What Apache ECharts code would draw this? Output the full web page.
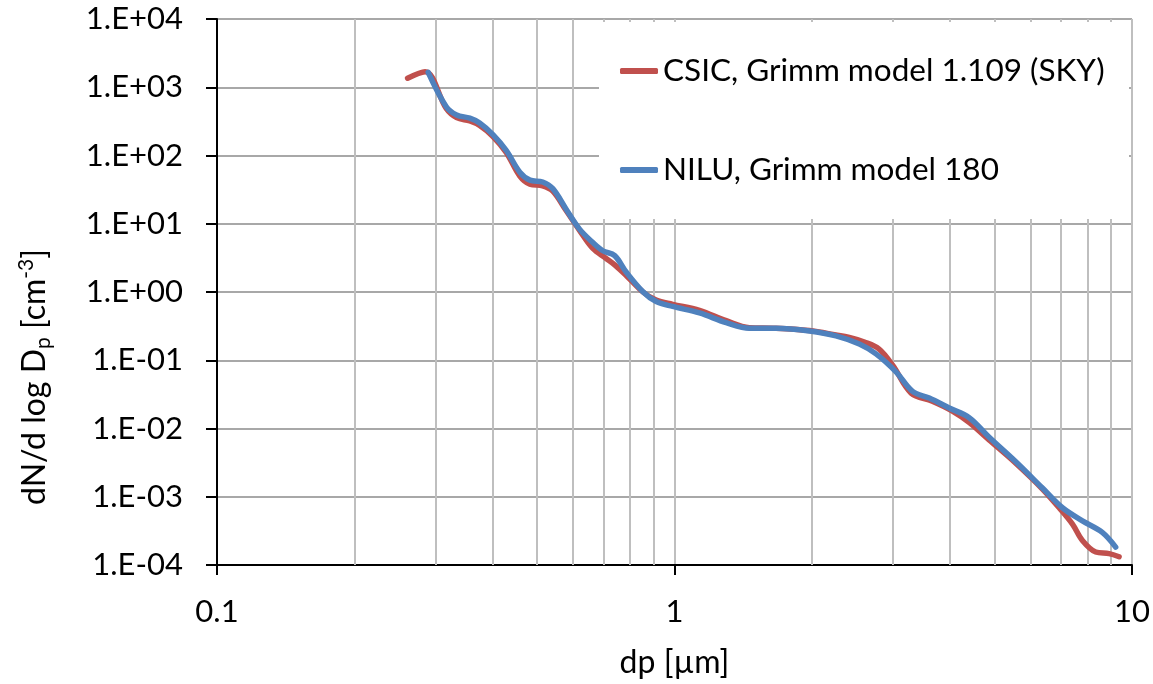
<!DOCTYPE html>
<html><head><meta charset="utf-8">
<script src="https://cdn.jsdelivr.net/npm/echarts@6/dist/echarts.min.js"></script>
<style>html,body{margin:0;padding:0;background:#fff}#c{width:1153px;height:684px}</style>
</head><body><div id="c"></div>
<script>
const redName = 'CSIC, Grimm model 1.109 (SKY)';
const blueName = 'NILU, Grimm model 180';
const redDp = [0.261,0.285,0.317,0.334,0.357,0.375,0.401,0.429,0.459,0.483,0.515,0.542,0.580,0.620,0.662,0.709,0.740,0.784,0.853,0.912,0.991,1.134,1.297,1.458,1.667,1.972,2.254,2.41,2.60,2.80,3.00,3.29,3.66,4.05,4.41,4.87,5.57,6.37,6.93,7.41,7.79,8.33,8.91,9.37];
const redN = [1355,1690,490,360,320,275,190,110,50,38,36,30,15.5,8.0,4.4,3.1,2.5,1.75,1.0,0.76,0.66,0.54,0.38,0.30,0.295,0.272,0.235,0.216,0.185,0.146,0.084,0.033,0.0251,0.018,0.0122,0.0068,0.0031,0.0013,0.00069,0.000398,0.000229,0.000155,0.000147,0.000132];
const blueDp = [0.2895,0.317,0.334,0.357,0.375,0.401,0.429,0.459,0.483,0.515,0.542,0.580,0.620,0.663,0.697,0.740,0.784,0.853,0.912,0.991,1.134,1.297,1.458,1.667,1.972,2.254,2.535,2.757,3.049,3.314,3.605,3.985,4.407,4.873,5.572,6.371,7.045,7.79,8.61,9.21];
const blueN = [1655,519,393,352,299,202,118,57,43.6,40.9,32.7,16.2,8.34,5.30,4.02,3.41,1.96,1.01,0.724,0.614,0.493,0.355,0.294,0.294,0.269,0.228,0.173,0.124,0.0676,0.0349,0.0279,0.0200,0.0144,0.00743,0.00325,0.00134,0.00069,0.000444,0.000301,0.000183];
const xTickLabels = ['0.1','1','10'];
const yTickLabels = ['1.E-04','1.E-03','1.E-02','1.E-01','1.E+00','1.E+01','1.E+02','1.E+03','1.E+04'];
const minorX = [0.2,0.3,0.4,0.5,0.6,0.7,0.8,0.9,2,3,4,5,6,7,8,9];

const FONT = 'Lato';
const zip = (a, b) => a.map((v, i) => [v, b[i]]);
const chart = echarts.init(document.getElementById('c'), null, {renderer: 'canvas'});
chart.setOption({
  animation: false,
  backgroundColor: '#fff',
  grid: {left: 217, right: 20, top: 19, bottom: 111},
  legend: {
    data: [redName, blueName],
    orient: 'vertical', left: 599, top: 22,
    padding: [33, 4, 33, 21],
    itemGap: 67, itemWidth: 38, itemHeight: 6, icon: 'roundRect',
    backgroundColor: '#fff', selectedMode: false,
    textStyle: {fontSize: 31.5, fontFamily: FONT, color: '#000', lineHeight: 32, width: 462, overflow: 'none'}
  },
  xAxis: {
    type: 'log', logBase: 10, min: 0.1, max: 10,
    axisLine: {show: true, onZero: false, lineStyle: {color: '#000', width: 2}},
    axisTick: {show: true, length: 10, lineStyle: {color: '#000', width: 2}},
    axisLabel: {margin: 31, fontSize: 31, fontFamily: FONT, color: '#000',
      formatter: v => xTickLabels[Math.round(Math.log10(v)) + 1]},
    splitLine: {show: true, lineStyle: {color: '#bfbfbf', width: 2}},
    name: 'dp [µm]', nameLocation: 'middle', nameGap: 82,
    nameTextStyle: {fontSize: 32, fontFamily: FONT, color: '#000'}
  },
  yAxis: {
    type: 'log', logBase: 10, min: 1e-4, max: 1e4, splitNumber: 8,
    axisLine: {show: true, onZero: false, lineStyle: {color: '#000', width: 2}},
    axisTick: {show: true, length: 11, lineStyle: {color: '#000', width: 2}},
    axisLabel: {margin: 34, fontSize: 31, fontFamily: FONT, color: '#000',
      formatter: v => yTickLabels[Math.round(Math.log10(v)) + 4]},
    splitLine: {show: true, lineStyle: {color: '#a8a8a8', width: 2}},
    name: '{a|dN/d log D}{s|p}{a| [cm}{u|-3}{a|]}', nameLocation: 'middle', nameGap: 163,
    nameTextStyle: {fontSize: 32, fontFamily: FONT, color: '#000', padding: [0, 170, 0, 0],
      rich: {
        a: {fontSize: 32, fontFamily: FONT, color: '#000', lineHeight: 38},
        s: {fontSize: 21, fontFamily: FONT, color: '#000', lineHeight: 18, verticalAlign: 'bottom'},
        u: {fontSize: 21, fontFamily: FONT, color: '#000', lineHeight: 15, verticalAlign: 'top'}
      }}
  },
  series: [
    {
      name: redName, type: 'line', data: zip(redDp, redN), smooth: 0.35,
      showSymbol: false, symbol: 'none', color: '#C0504D',
      lineStyle: {width: 5.5, color: '#C0504D', cap: 'round', join: 'round'},
      markLine: {
        silent: true, symbol: 'none', z: 1, animation: false,
        label: {show: false}, emphasis: {disabled: true},
        lineStyle: {color: '#bfbfbf', width: 2, type: 'solid'},
        data: minorX.map(v => ({xAxis: v}))
      }
    },
    {
      name: blueName, type: 'line', data: zip(blueDp, blueN), smooth: 0.35,
      showSymbol: false, symbol: 'none', color: '#4F81BD',
      lineStyle: {width: 5.5, color: '#4F81BD', cap: 'round', join: 'round'}
    }
  ]
});
</script></body></html>
